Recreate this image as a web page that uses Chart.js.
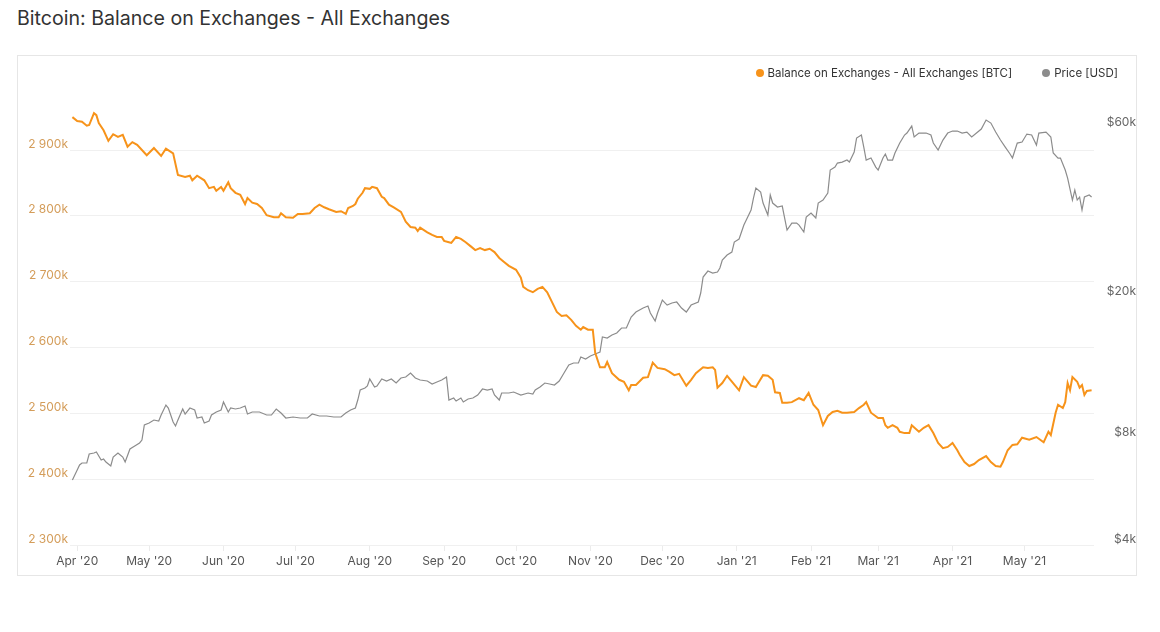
<!DOCTYPE html>
<html>
<head>
<meta charset="utf-8">
<title>Bitcoin: Balance on Exchanges - All Exchanges</title>
<script src="https://cdn.jsdelivr.net/npm/chart.js@4.4.1/dist/chart.umd.min.js"></script>
<style>
  html, body { margin: 0; padding: 0; background: #fff; }
  body { width: 1160px; height: 632px; position: relative; font-family: Inter, "Noto Sans", sans-serif; overflow: hidden; }
  #title { position: absolute; left: 17px; top: 7px; font-size: 19.6px; line-height: 23px; color: #333; }
  #card { position: absolute; left: 17px; top: 55px; width: 1118px; height: 519px; border: 1px solid #e6e6e6; }
  #chartBox { position: absolute; left: 18px; top: 56px; width: 1118px; height: 519px; }
  #legend { position: absolute; right: 42px; top: 65px; height: 16px; display: flex; align-items: center; font-size: 11.5px; color: #333; }
  #legend .item { display: flex; align-items: center; margin-left: 30px; }
  #legend .dot { width: 8px; height: 8px; border-radius: 50%; margin-right: 4px; }
</style>
</head>
<body>
<div id="title">Bitcoin: Balance on Exchanges - All Exchanges</div>
<div id="card"></div>
<div id="chartBox"><canvas id="chart"></canvas></div>
<div id="legend"></div>

<script>
// ------------------------------------------
// DATA (days counted from 1 Apr 2020)
// ------------------------------------------
const seriesNames = ['Balance on Exchanges - All Exchanges [BTC]', 'Price [USD]'];
const seriesColors = ['#f7931a', '#8c8c8c'];

const monthTickDays = [0, 30, 61, 91, 122, 153, 183, 214, 244, 275, 306, 334, 365, 395];
const monthLabels = ["Apr '20", "May '20", "Jun '20", "Jul '20", "Aug '20", "Sep '20", "Oct '20",
  "Nov '20", "Dec '20", "Jan '21", "Feb '21", "Mar '21", "Apr '21", "May '21"];

const balanceTicks = [2300, 2400, 2500, 2600, 2700, 2800, 2900];   // thousand BTC
const priceTicks = [4000, 8000, 20000, 60000];                      // USD

const balanceDays = [
  -2, 0, 2, 4, 5, 7, 8, 9, 11, 13,
  15, 17, 19, 21, 23, 25, 29, 32, 35, 37,
  40, 42, 45, 47, 48, 50, 53, 55, 57, 58,
  60, 61, 63, 64, 66, 68, 70, 71, 73, 75,
  77, 79, 82, 84, 85, 87, 90, 92, 94, 97,
  99, 101, 103, 105, 108, 110, 112, 113, 115, 116,
  117, 119, 120, 122, 123, 125, 127, 128, 130, 132,
  135, 137, 139, 141, 142, 143, 146, 148, 150, 152,
  153, 155, 156, 158, 160, 162, 164, 166, 168, 170,
  172, 174, 176, 178, 180, 183, 185, 186, 188, 190,
  192, 194, 196, 198, 200, 202, 204, 206, 208, 210,
  211, 213, 215, 216, 218, 220, 221, 223, 226, 228,
  230, 231, 233, 236, 238, 240, 242, 245, 247, 249,
  251, 254, 256, 258, 261, 263, 265, 266, 267, 269,
  271, 273, 276, 278, 281, 283, 284, 286, 288, 290,
  291, 293, 294, 296, 298, 301, 303, 305, 307, 309,
  311, 313, 315, 317, 319, 321, 324, 326, 328, 329,
  331, 334, 336, 337, 338, 340, 342, 343, 345, 347,
  348, 351, 353, 355, 357, 359, 361, 363, 365, 367,
  368, 370, 372, 374, 376, 379, 381, 383, 385, 386,
  388, 390, 392, 394, 397, 400, 403, 405, 406, 408,
  409, 411, 412, 413, 414, 415, 417, 418, 419, 420,
  421, 423
];
const balanceK = [
  2950, 2944, 2943, 2937, 2938, 2956, 2953, 2941, 2930, 2914,
  2924, 2920, 2923, 2905, 2912, 2908, 2892, 2903, 2891, 2902,
  2895, 2862, 2859, 2861, 2854, 2861, 2854, 2842, 2844, 2838,
  2844, 2838, 2851, 2842, 2835, 2832, 2818, 2827, 2820, 2818,
  2812, 2801, 2798, 2798, 2804, 2798, 2797, 2803, 2803, 2804,
  2812, 2817, 2813, 2810, 2806, 2807, 2803, 2812, 2815, 2818,
  2826, 2835, 2842, 2841, 2844, 2842, 2829, 2827, 2817, 2813,
  2806, 2791, 2783, 2782, 2777, 2782, 2775, 2771, 2768, 2768,
  2762, 2760, 2759, 2768, 2765, 2760, 2754, 2748, 2751, 2748,
  2750, 2745, 2736, 2730, 2724, 2718, 2706, 2692, 2687, 2684,
  2689, 2692, 2684, 2669, 2654, 2648, 2649, 2642, 2633, 2627,
  2631, 2627, 2627, 2592, 2570, 2570, 2578, 2561, 2551, 2548,
  2535, 2543, 2543, 2554, 2555, 2577, 2569, 2567, 2563, 2558,
  2560, 2542, 2551, 2561, 2570, 2569, 2570, 2566, 2539, 2546,
  2557, 2548, 2535, 2555, 2542, 2540, 2546, 2558, 2557, 2551,
  2532, 2531, 2516, 2516, 2517, 2523, 2520, 2531, 2513, 2505,
  2482, 2496, 2502, 2504, 2501, 2501, 2502, 2508, 2513, 2517,
  2501, 2493, 2493, 2482, 2478, 2482, 2478, 2472, 2470, 2470,
  2482, 2472, 2478, 2482, 2470, 2455, 2447, 2449, 2455, 2444,
  2437, 2426, 2420, 2423, 2429, 2435, 2426, 2420, 2419, 2426,
  2444, 2452, 2453, 2463, 2460, 2464, 2456, 2472, 2467, 2501,
  2513, 2508, 2517, 2546, 2535, 2555, 2548, 2539, 2543, 2528,
  2534, 2535
];

const priceDays = [
  -2, 0, 1, 2, 4, 5, 7, 8, 10, 11,
  12, 14, 15, 17, 19, 20, 22, 24, 26, 27,
  28, 30, 32, 34, 35, 37, 38, 40, 41, 42,
  44, 45, 47, 49, 50, 52, 53, 55, 56, 58,
  60, 61, 63, 64, 66, 68, 70, 71, 73, 76,
  79, 81, 83, 85, 87, 90, 93, 96, 98, 101,
  104, 107, 110, 112, 114, 116, 117, 118, 120, 121,
  122, 124, 125, 127, 129, 131, 133, 135, 137, 139,
  141, 143, 146, 148, 150, 152, 154, 155, 157, 158,
  160, 161, 163, 165, 167, 169, 171, 173, 174, 176,
  177, 180, 182, 185, 188, 190, 191, 193, 195, 197,
  199, 201, 203, 205, 207, 209, 210, 212, 214, 216,
  218, 219, 221, 223, 225, 227, 229, 231, 233, 236,
  238, 239, 241, 242, 244, 246, 248, 250, 252, 254,
  256, 259, 260, 261, 263, 265, 267, 268, 269, 271,
  273, 274, 276, 278, 279, 281, 282, 283, 285, 286,
  288, 289, 290, 292, 294, 296, 298, 300, 301, 303,
  304, 306, 308, 309, 311, 313, 314, 316, 317, 319,
  321, 322, 324, 325, 327, 328, 329, 331, 333, 334,
  336, 337, 338, 340, 341, 343, 345, 346, 348, 349,
  351, 354, 356, 357, 359, 361, 363, 365, 367, 369,
  371, 373, 375, 377, 379, 381, 383, 385, 387, 389,
  390, 392, 394, 396, 398, 400, 401, 404, 406, 407,
  409, 410, 412, 413, 415, 416, 417, 418, 419, 420,
  422, 423
];
const priceUsd = [
  6100, 6510, 6725, 6813, 6813, 7222, 7270, 7317, 6947, 6992,
  6857, 6681, 7083, 7270, 7083, 6857, 7461, 7607, 7758, 7910,
  8720, 8834, 9007, 8949, 9304, 9929, 9736, 8890, 8662, 9007,
  9674, 9364, 9736, 9611, 9125, 9184, 8834, 8949, 9304, 9487,
  9611, 10124, 9487, 9736, 9674, 9736, 9864, 9364, 9487, 9487,
  9304, 9304, 9674, 9426, 9125, 9184, 9125, 9125, 9364, 9244,
  9244, 9184, 9184, 9426, 9611, 9736, 10256, 10944, 11086, 11232,
  11754, 11159, 11232, 11754, 11602, 11754, 11452, 11831, 11908, 12222,
  11831, 11678, 11602, 11379, 11527, 11678, 11908, 10256, 10390, 10190,
  10390, 10124, 10322, 10390, 10594, 11015, 10944, 11015, 10594, 10256,
  10733, 10733, 10803, 10594, 10733, 10663, 10944, 11159, 11452, 11379,
  11306, 11602, 12222, 12872, 13041, 13041, 13559, 13383, 13648, 13826,
  14006, 15440, 15340, 15640, 15847, 16370, 16370, 17580, 18160, 18640,
  18882, 18044, 17130, 18044, 19632, 19004, 19255, 19380, 18640, 18160,
  19004, 19380, 20546, 22796, 23700, 23394, 23548, 24168, 25457, 26300,
  26816, 28610, 29174, 31948, 33004, 35218, 38072, 40628, 39588, 36860,
  34095, 38824, 36860, 35916, 36152, 30928, 32364, 32364, 31948, 30532,
  33656, 34540, 33440, 36860, 37586, 39332, 45668, 46564, 47788, 48100,
  48730, 48100, 51332, 56220, 57324, 53024, 48730, 49368, 46564, 45668,
  49368, 50672, 48730, 48730, 51004, 54420, 57324, 58068, 60772, 56588,
  58068, 58068, 57324, 54420, 51996, 55492, 58068, 58828, 58828, 58068,
  58448, 56588, 58068, 59596, 63180, 61960, 58448, 55492, 53024, 50672,
  49368, 54420, 54776, 57692, 57324, 53720, 58068, 58448, 56588, 51004,
  49368, 49368, 45668, 43352, 37586, 40108, 37586, 38320, 35218, 38320,
  38824, 38320
];

// ------------------------------------------
// LEGEND (plain HTML, top right of the card)
// ------------------------------------------
const legendBox = document.getElementById('legend');
seriesNames.forEach((name, i) => {
  const item = document.createElement('div');
  item.className = 'item';
  item.innerHTML = '<span class="dot" style="background:' + seriesColors[i] + '"></span>' + name;
  legendBox.appendChild(item);
});

// ------------------------------------------
// CHART
// ------------------------------------------
Chart.defaults.font.family = 'Inter, "Noto Sans", sans-serif';
Chart.defaults.font.size = 12;

const toPoints = (days, vals) => days.map((d, i) => ({ x: d, y: vals[i] }));
const withSpaces = n => String(n).replace(/\B(?=(\d{3})+(?!\d))/g, ' ');

new Chart(document.getElementById('chart'), {
  type: 'line',
  data: {
    datasets: [
      {
        label: seriesNames[0],
        data: toPoints(balanceDays, balanceK),
        yAxisID: 'y',
        borderColor: seriesColors[0],
        borderWidth: 2,
        pointRadius: 0,
        tension: 0
      },
      {
        label: seriesNames[1],
        data: toPoints(priceDays, priceUsd),
        yAxisID: 'y1',
        borderColor: seriesColors[1],
        borderWidth: 1.2,
        pointRadius: 0,
        tension: 0
      }
    ]
  },
  options: {
    responsive: true,
    maintainAspectRatio: false,
    animation: false,
    layout: { padding: { top: 33, left: 0, right: 0, bottom: 0 } },
    plugins: {
      legend: { display: false },
      tooltip: { enabled: false }
    },
    scales: {
      x: {
        type: 'linear',
        min: -3,
        max: 424,
        afterBuildTicks: s => { s.ticks = monthTickDays.map(v => ({ value: v })); },
        afterFit: s => { s.height = 30; },
        grid: { drawOnChartArea: false, drawTicks: true, tickLength: 6, color: '#ebebeb' },
        border: { display: false },
        ticks: {
          color: '#555',
          padding: 3,
          maxRotation: 0,
          autoSkip: false,
          callback: (v, i) => monthLabels[i]
        }
      },
      y: {
        position: 'left',
        min: 2300,
        max: 2992.7,
        afterBuildTicks: s => { s.ticks = balanceTicks.map(v => ({ value: v })); },
        afterFit: s => { s.width = 52; },
        grid: { color: '#f0f0f0', drawTicks: false },
        border: { display: false },
        ticks: {
          color: '#d49d5a',
          padding: 2,
          labelOffset: -6,
          callback: v => withSpaces(v) + 'k'
        }
      },
      y1: {
        type: 'logarithmic',
        position: 'right',
        min: 4000,
        max: 77300,
        afterBuildTicks: s => { s.ticks = priceTicks.map(v => ({ value: v })); },
        afterFit: s => { s.width = 42; },
        grid: { display: false, drawTicks: false },
        border: { display: false },
        ticks: {
          color: '#666',
          padding: 1,
          crossAlign: 'far',
          labelOffset: -6,
          callback: v => '$' + (v / 1000) + 'k'
        }
      }
    }
  }
});
</script>
</body>
</html>
